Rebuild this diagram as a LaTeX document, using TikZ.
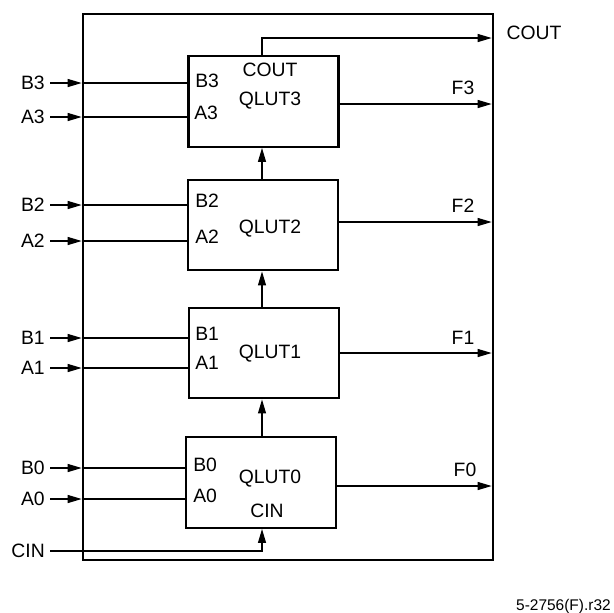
\documentclass[tikz,border=0pt]{standalone}
\usepackage{fontspec}
\setmainfont{Liberation Sans}
\usetikzlibrary{arrows.meta}
\begin{document}
\begin{tikzpicture}[x=0.75pt,y=-0.75pt,
  lbl/.style={inner sep=0pt, text height=10.4pt, text depth=0pt, font=\fontsize{14.5}{17}\selectfont},
  small/.style={inner sep=0pt, text height=8.3pt, text depth=0pt, font=\fontsize{11.6}{14}\selectfont},
  qbox/.style={draw, line width=1.7pt, minimum width=112.5pt, minimum height=68pt, inner sep=0pt},
  outerbox/.style={draw, line width=2pt, minimum width=307.5pt, minimum height=409.5pt, inner sep=0pt, outer sep=0pt},
  arr/.style={line width=0.9pt, -{Triangle[length=10.5pt,width=6pt]}},
  wire/.style={line width=0.9pt}
]
\useasboundingbox (0,0) rectangle (614,612);
% outer block
\node[outerbox] (outer) at (288,287) {};
% QLUT boxes
\node[qbox] (q3) at (263.5,101.5) {};
\node[qbox] (q2) at (263,225) {};
\node[qbox] (q1) at (264,353) {};
\node[qbox] (q0) at (261,482.5) {};
\coordinate (cx) at (262,0);
% box texts
\node[lbl] (t3) at (270,99) {QLUT3};
\node[lbl] (tc) at (270,70) {COUT};
\node[lbl] (t2) at (270,227) {QLUT2};
\node[lbl] (t1) at (270,352) {QLUT1};
\node[lbl] (t0) at (270,477) {QLUT0};
\node[lbl] (tcin) at (267,511) {CIN};
\node[lbl,anchor=west] (iB3) at (195,80.5) {B3};
\node[lbl,anchor=west] (iA3) at (194,113) {A3};
\node[lbl,anchor=west] (iB2) at (195,201) {B2};
\node[lbl,anchor=west] (iA2) at (195,237) {A2};
\node[lbl,anchor=west] (iB1) at (195,334) {B1};
\node[lbl,anchor=west] (iA1) at (195,363) {A1};
\node[lbl,anchor=west] (iB0) at (193,465) {B0};
\node[lbl,anchor=west] (iA0) at (193,496) {A0};
% external input labels
\node[lbl,anchor=east] (lB3) at (45,83) {B3};
\node[lbl,anchor=east] (lA3) at (45,117) {A3};
\node[lbl,anchor=east] (lB2) at (45,205) {B2};
\node[lbl,anchor=east] (lA2) at (45,241) {A2};
\node[lbl,anchor=east] (lB1) at (45,338) {B1};
\node[lbl,anchor=east] (lA1) at (45,368) {A1};
\node[lbl,anchor=east] (lB0) at (45,468) {B0};
\node[lbl,anchor=east] (lA0) at (45,499) {A0};
\node[lbl,anchor=east] (lCIN) at (45,551) {CIN};
% inputs
\foreach \n/\q in {B3/q3,A3/q3,B2/q2,A2/q2,B1/q1,A1/q1,B0/q0,A0/q0}{
  \draw[arr, shorten <=3.75pt, shorten >=1pt] (l\n) -- (l\n -| outer.west);
  \draw[wire] (l\n -| outer.west) -- (l\n -| \q.west);
}
% outputs
\coordinate (f3) at (493,104);
\coordinate (f2) at (493,222);
\coordinate (f1) at (493,353);
\coordinate (f0) at (493,486);
\coordinate (co) at (493,38);
\foreach \i in {0,1,2,3}{
  \draw[arr, shorten >=1pt] (q\i.east |- f\i) -- (outer.east |- f\i);
}
\node[lbl] (lF3) at (463,88) {F3};
\node[lbl] (lF2) at (463,206) {F2};
\node[lbl] (lF1) at (463,338) {F1};
\node[lbl] (lF0) at (465,470) {F0};
% carry chain
\draw[arr] (q0.north -| cx) -- (q1.south -| cx);
\draw[arr] (q1.north -| cx) -- (q2.south -| cx);
\draw[arr] (q2.north -| cx) -- (q3.south -| cx);
\draw[arr, shorten >=1pt] (q3.north -| cx) |- (outer.east |- co);
\node[lbl] (lCOUT) at (534,33) {COUT};
\draw[arr, shorten <=3.75pt] (lCIN) -| (q0.south -| cx);
% figure id
\node[small,anchor=east] (fid) at (611,605) {5-2756(F).r32};
\end{tikzpicture}
\end{document}
